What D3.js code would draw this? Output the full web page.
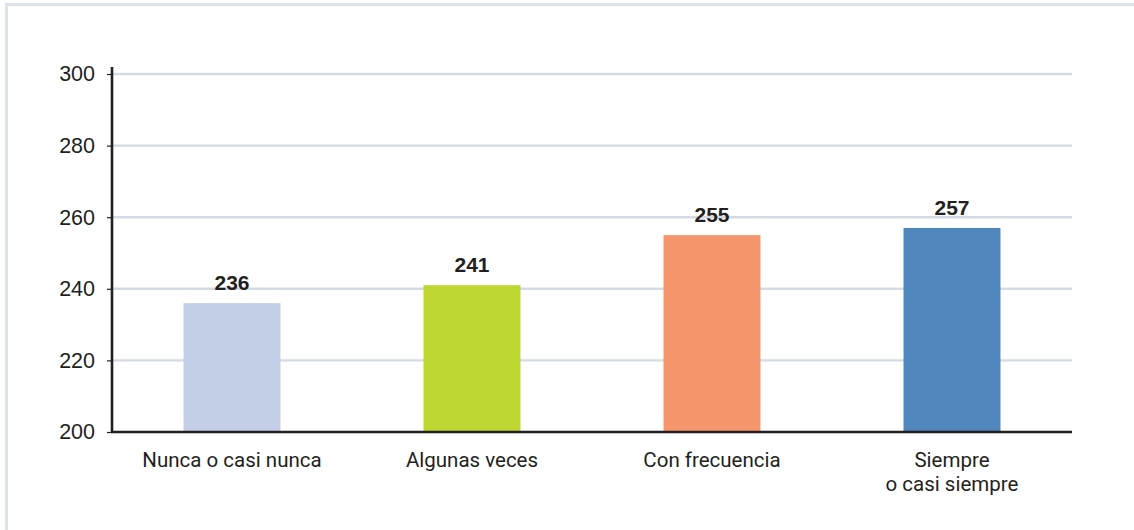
<!DOCTYPE html>
<html>
<head>
<meta charset="utf-8">
<script src="https://cdn.jsdelivr.net/npm/d3@7"></script>
<style>
  html, body { margin: 0; padding: 0; background: #ffffff; }
  svg { display: block; }
</style>
</head>
<body>
<svg id="chart" width="1134" height="530"></svg>
<script>
// Chart data
const categories = ["Nunca o casi nunca", "Algunas veces", "Con frecuencia", "Siempre\no casi siempre"];
const values = [236, 241, 255, 257];
const barColors = ["#c3d0e7", "#bed62f", "#f5956b", "#5088be"];
const yTicks = [200, 220, 240, 260, 280, 300];

const svg = d3.select("#chart");
const ink = "#231f20";

// Panel frame: top and left edges only
svg.append("path")
  .attr("d", "M6.5,530 V4.5 H1134")
  .attr("fill", "none")
  .attr("stroke", "#dde3eb")
  .attr("stroke-width", 3);

const plot = { left: 112, right: 1072, top: 74, bottom: 432 };

const x = d3.scaleBand()
  .domain(categories)
  .range([plot.left, plot.right])
  .paddingInner(0.596)
  .paddingOuter(0.298);

const y = d3.scaleLinear()
  .domain([200, 300])
  .range([plot.bottom, plot.top]);

// Horizontal gridlines
svg.append("g")
  .selectAll("line")
  .data(yTicks.filter(t => t !== 200))
  .join("line")
  .attr("x1", plot.left)
  .attr("x2", plot.right)
  .attr("y1", d => y(d))
  .attr("y2", d => y(d))
  .attr("stroke", "#d3dae5")
  .attr("stroke-width", 2.4);

// Bars
svg.append("g")
  .selectAll("rect")
  .data(values)
  .join("rect")
  .attr("x", (d, i) => x(categories[i]))
  .attr("width", x.bandwidth())
  .attr("y", d => y(d))
  .attr("height", d => y(200) - y(d))
  .attr("fill", (d, i) => barColors[i]);

// Value labels
svg.append("g")
  .selectAll("text")
  .data(values)
  .join("text")
  .attr("x", (d, i) => x(categories[i]) + x.bandwidth() / 2)
  .attr("y", d => y(d) - 13)
  .attr("text-anchor", "middle")
  .attr("font-family", "'Liberation Sans', Arial, sans-serif")
  .attr("font-weight", "bold")
  .attr("font-size", 21)
  .attr("fill", ink)
  .text(d => d);

// Y axis
const yAxis = d3.axisLeft(y)
  .tickValues(yTicks)
  .tickSize(5)
  .tickPadding(12)
  .tickFormat(d3.format("d"));

const gy = svg.append("g")
  .attr("transform", `translate(${plot.left},0)`)
  .call(yAxis);
gy.select(".domain").remove();
gy.selectAll(".tick line").attr("stroke", ink).attr("stroke-width", 1.2);
gy.selectAll(".tick text")
  .attr("font-family", "'Liberation Sans', Arial, sans-serif")
  .attr("font-size", 21.5)
  .attr("fill", ink);

svg.append("line")
  .attr("x1", plot.left).attr("x2", plot.left)
  .attr("y1", plot.top - 7).attr("y2", plot.bottom + 1)
  .attr("stroke", ink)
  .attr("stroke-width", 2.6);

// X axis
const xAxis = d3.axisBottom(x).tickSize(0).tickPadding(0).tickFormat("");
const gx = svg.append("g")
  .attr("transform", `translate(0,${plot.bottom})`)
  .call(xAxis);
gx.select(".domain").remove();

svg.append("line")
  .attr("x1", plot.left - 1).attr("x2", plot.right)
  .attr("y1", plot.bottom).attr("y2", plot.bottom)
  .attr("stroke", ink)
  .attr("stroke-width", 2.6);

// Category labels (multi-line where needed)
const catLabels = svg.append("g")
  .selectAll("text")
  .data(categories)
  .join("text")
  .attr("x", d => x(d) + x.bandwidth() / 2)
  .attr("y", 467)
  .attr("text-anchor", "middle")
  .attr("font-family", "Roboto, 'Liberation Sans', sans-serif")
  .attr("font-size", 20.5)
  .attr("fill", ink);

catLabels.each(function(d) {
  const lines = d.split("\n");
  const t = d3.select(this);
  lines.forEach((line, i) => {
    t.append("tspan")
      .attr("x", x(d) + x.bandwidth() / 2)
      .attr("dy", i === 0 ? 0 : 24)
      .text(line);
  });
});
</script>
</body>
</html>
